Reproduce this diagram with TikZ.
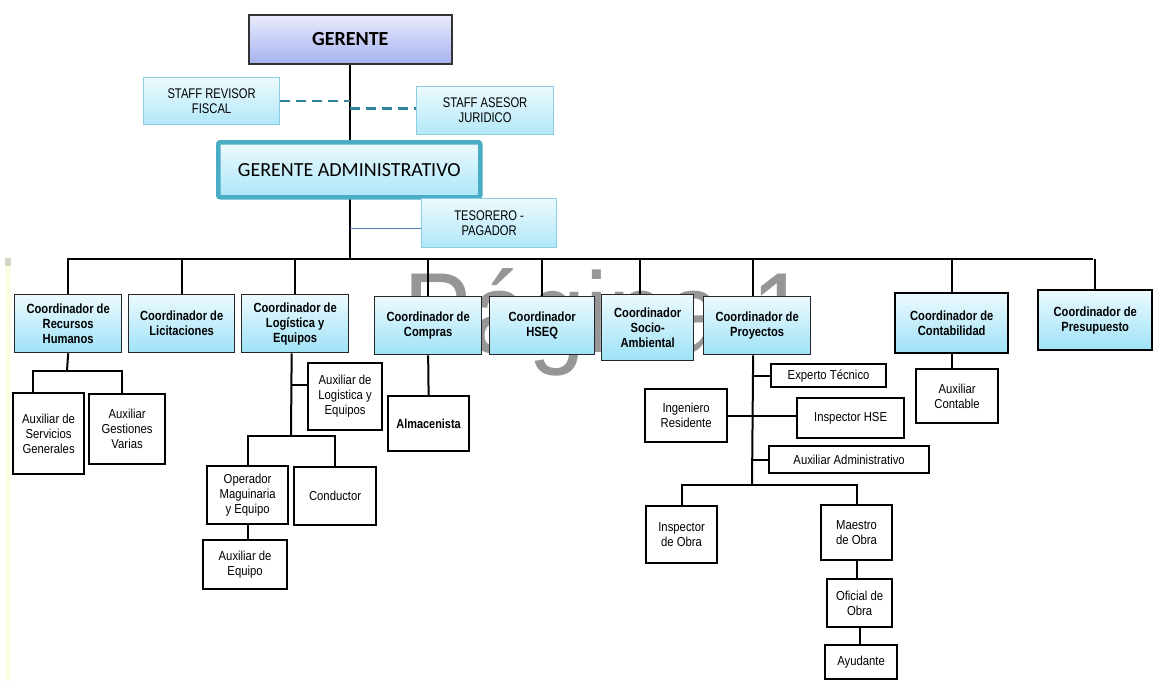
\documentclass[tikz,border=0pt]{standalone}
\usepackage{fontspec}
\setmainfont{Liberation Sans}
\newfontfamily\nf[FakeStretch=0.87]{Liberation Sans}
\newfontfamily\nbf[FakeStretch=0.84]{Liberation Sans}
\newfontfamily\sff[FakeStretch=0.8]{Liberation Sans}
\newfontfamily\calfont{Carlito}
\newfontfamily\wmf[FakeStretch=0.9]{Liberation Sans}
\definecolor{cTop}{RGB}{236,250,254}
\definecolor{cBot}{RGB}{158,226,247}
\definecolor{gTop}{RGB}{234,236,252}
\definecolor{gBot}{RGB}{166,178,240}
\definecolor{sTop}{RGB}{236,250,254}
\definecolor{sBot}{RGB}{178,232,248}
\definecolor{sBord}{RGB}{140,205,228}
\definecolor{gaBord}{RGB}{75,172,198}
\definecolor{dashC}{RGB}{49,132,155}
\definecolor{tesL}{RGB}{79,129,189}
\definecolor{wmC}{RGB}{150,150,150}
\definecolor{stripC}{RGB}{253,253,228}
\definecolor{stripT}{RGB}{216,213,200}
\pgfdeclarelayer{wmlayer}
\pgfdeclarelayer{bglayer}
\pgfsetlayers{wmlayer,bglayer,main}
\tikzset{
  topbox/.style={draw=black!80, line width=1.5pt, top color=gTop, bottom color=gBot, align=center, inner sep=0pt, font=\calfont\bfseries\fontsize{20}{24}\selectfont},
  gabox/.style={draw=gaBord, line width=4.5pt, rounded corners=2pt, top color=cTop, bottom color=cBot!85, align=center, inner sep=0pt, font=\calfont\fontsize{20}{24}\selectfont},
  staffbox/.style={draw=sBord, line width=1.2pt, top color=sTop, bottom color=sBot, align=center, inner sep=0pt, font=\sff\fontsize{14}{15}\selectfont},
  coordbox/.style={draw=black!85, line width=1.3pt, top color=cTop, bottom color=cBot, align=center, inner sep=0pt, font=\nbf\bfseries\fontsize{13.3}{15}\selectfont},
  coordboxk/.style={coordbox, draw=black, line width=2.4pt},
  subbox/.style={draw=black, line width=2.2pt, fill=white, align=center, inner sep=0pt, font=\nf\fontsize{13}{15}\selectfont},
  subboxb/.style={subbox, font=\nbf\bfseries\fontsize{13}{15}\selectfont},
  org/.style={draw=black, line width=2pt},
  stf/.style={draw=dashC, line width=2.6pt, dash pattern=on 10pt off 6pt},
  tesline/.style={draw=tesL, line width=1pt}
}
\newcommand{\ob}[7]{\node[#1, anchor=north west, minimum width={#5-#3}, minimum height={#6-#4}] (#2) at (#3,#4) {#7};}
\begin{document}
\begin{tikzpicture}[x=1pt,y=-1pt]
\useasboundingbox (0,0) rectangle (1170,681);
% watermark and left strip
\begin{pgfonlayer}{wmlayer}
\fill[stripC] (5,258) rectangle (11,681);
\fill[stripT] (5,258) rectangle (11,266);
\node[anchor=base west, text=wmC, font=\wmf\fontsize{114}{114}\selectfont, inner sep=0pt] (wm) at (403,352) {Página 1};
\end{pgfonlayer}
% top
\ob{topbox}{g}{248}{14}{451}{63}{GERENTE}
\ob{staffbox}{srf}{143}{77}{279}{124}{STAFF REVISOR\\FISCAL}
\ob{staffbox}{saj}{416}{86}{553}{134}{STAFF ASESOR\\JURIDICO}
\ob{gabox}{ga}{216}{140}{478}{195}{GERENTE ADMINISTRATIVO}
\ob{staffbox}{tes}{421}{198}{556}{247}{TESORERO -\\PAGADOR}
% coordinators
\ob{coordbox}{crrhh}{14}{294}{121}{352}{Coordinador de\\Recursos\\Humanos}
\ob{coordbox}{clic}{128}{294}{234}{352}{Coordinador de\\Licitaciones}
\ob{coordbox}{clog}{241}{294}{348}{352}{Coordinador de\\Logística y\\Equipos}
\ob{coordbox}{ccom}{374}{296}{481}{354}{Coordinador de\\Compras}
\ob{coordbox}{chseq}{489}{296}{594}{354}{Coordinador\\HSEQ}
\ob{coordbox}{csoc}{601}{294}{693}{360}{Coordinador\\Socio-\\Ambiental}
\ob{coordbox}{cproy}{703}{296}{810}{354}{Coordinador de\\Proyectos}
\ob{coordboxk}{ccont}{894}{292}{1007}{352}{Coordinador de\\Contabilidad}
\ob{coordboxk}{cpres}{1037}{289}{1151}{349}{Coordinador de\\Presupuesto}
% subordinates
\ob{subbox}{asg}{12}{392}{83}{473}{Auxiliar de\\Servicios\\Generales}
\ob{subbox}{agv}{88}{393}{164}{463}{Auxiliar\\Gestiones\\Varias}
\ob{subbox}{ale}{307}{362}{381}{429}{Auxiliar de\\Logistica y\\Equipos}
\ob{subbox}{omq}{206}{465}{287}{523}{\fontsize{13}{12.3}\selectfont Operador\\Maguinaria\\y Equipo}
\ob{subbox}{cond}{293}{466}{375}{524}{Conductor}
\ob{subbox}{aeq}{202}{539}{286}{588}{Auxiliar de\\Equipo}
\ob{subboxb}{alm}{387}{395}{468}{450}{Almacenista}
\ob{subbox}{expt}{770}{363}{885}{386}{Experto Técnico}
\ob{subbox}{ing}{644}{388}{726}{441}{Ingeniero\\Residente}
\ob{subbox}{hse}{796}{397}{903}{437}{Inspector HSE}
\ob{subbox}{aad}{768}{445}{928}{472}{Auxiliar Administrativo}
\ob{subbox}{iob}{645}{505}{716}{562}{Inspector\\de Obra}
\ob{subbox}{mob}{820}{504}{891}{559}{Maestro\\de Obra}
\ob{subbox}{oob}{826}{578}{891}{626}{Oficial de\\Obra}
\ob{subbox}{ayu}{824}{644}{896}{678}{Ayudante}
\ob{subbox}{auc}{915}{368}{997}{422}{Auxiliar\\Contable}
% connectors
\begin{pgfonlayer}{bglayer}
\coordinate (busL) at (67,259);
\coordinate (busR) at (1093,259);
\draw[org] (g.south) -- (g.south |- busL);
\draw[org] (busL) -- (busR);
\coordinate (sajP) at ([yshift=2pt]saj.west);
\coordinate (tesP) at ([yshift=-5.5pt]tes.west);
\draw[stf] (srf.east) -- (srf.east -| g.south);
\draw[stf] (sajP -| g.south) -- (sajP);
\draw[tesline] (tesP -| g.south) -- (tesP);
\coordinate (socT) at ([xshift=-8pt]csoc.north);
\coordinate (proT) at ([xshift=-4pt]cproy.north);
\foreach \c in {crrhh,clic,clog,ccom,chseq,ccont,cpres}
  \draw[org] (\c.north) -- (\c.north |- busL);
\draw[org] (socT) -- (socT |- busL);
\draw[org] (proT) -- (proT |- busL);
% RRHH
\coordinate (rj) at (67,371);
\draw[org] (crrhh.south) -- (rj);
\coordinate (asgT) at ([xshift=-15.5pt]asg.north);
\coordinate (agvT) at ([xshift=-5pt]agv.north);
\draw[org] (asgT) -- (asgT |- rj) -- (agvT |- rj) -- (agvT);
% Logistica
\coordinate (logB) at ([xshift=-3.5pt]clog.south);
\coordinate (lj) at (291,436);
\draw[org] (logB) -- (lj);
\coordinate (aleP) at ([yshift=11.5pt]ale.west);
\draw[org] (aleP -| logB) -- (aleP);
\draw[org] (omq.north) -- (omq.north |- lj) -- (cond.north |- lj) -- (cond.north);
\draw[org] (omq.south) -- (omq.south |- aeq.north);
% Compras
\draw[org] (ccom.south) -- (alm.north);
% Proyectos
\coordinate (pB) at ([xshift=-4pt]cproy.south);
\coordinate (pj) at (752,485);
\draw[org] (pB) -- (pj);
\draw[org] (pB |- expt.west) -- (expt.west);
\draw[org] (ing.east) -- (ing.east -| hse.west);
\draw[org] (pB |- aad.west) -- (aad.west);
\draw[org] (iob.north) -- (iob.north |- pj) -- (mob.north |- pj) -- (mob.north);
\draw[org] (mob.south) -- (mob.south |- oob.north);
\draw[org] (oob.south) -- (oob.south |- ayu.north);
% Contabilidad
\draw[org] (ccont.south) -- (ccont.south |- auc.north);
\end{pgfonlayer}
\end{tikzpicture}
\end{document}
